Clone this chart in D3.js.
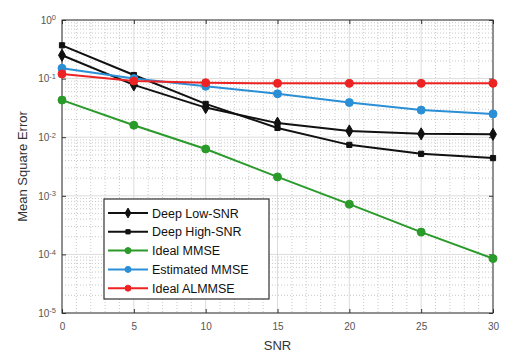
<!DOCTYPE html>
<html lang="en">
<head>
  <meta charset="UTF-8">
  <title>Mean Square Error vs SNR</title>
  <script src="https://d3js.org/d3.v7.min.js"></script>
  <style>
    body { margin: 0; background: #fff; }
    svg { font-family: "Liberation Sans", Arial, sans-serif; }
    .tick text { fill: #555; font-size: 10px; }
    .legend text { font-size: 12.5px; fill: #111; }
  </style>
</head>
<body>
  <div id="chart"></div>
  <script>
    // data
    var snr = [0, 5, 10, 15, 20, 25, 30];
    var deepLow = [0.25, 0.078, 0.032, 0.0174, 0.0128, 0.0114, 0.0112];
    var deepHigh = [0.37, 0.115, 0.037, 0.0144, 0.0074, 0.0052, 0.0044];
    var idealMmse = [0.043, 0.016, 0.0063, 0.0021, 0.00072, 0.00024, 0.000085];
    var estMmse = [0.15, 0.10, 0.074, 0.055, 0.039, 0.029, 0.025];
    var idealAlmmse = [0.12, 0.091, 0.085, 0.083, 0.083, 0.083, 0.083];
    var xTicks = [0, 5, 10, 15, 20, 25, 30];
    var yExps = [0, -1, -2, -3, -4, -5];

    var series = [
      { name: "Deep Low-SNR", values: deepLow, color: "#111", marker: "diamond" },
      { name: "Deep High-SNR", values: deepHigh, color: "#111", marker: "square" },
      { name: "Ideal MMSE", values: idealMmse, color: "#2a9a2a", marker: "circle" },
      { name: "Estimated MMSE", values: estMmse, color: "#2b8fd6", marker: "circle" },
      { name: "Ideal ALMMSE", values: idealAlmmse, color: "#ee2222", marker: "circle" }
    ];

    var margin = { top: 20, right: 19, bottom: 48, left: 62 },
      width = 512 - margin.left - margin.right,
      height = 361 - margin.top - margin.bottom;

    var svg = d3.select("#chart").append("svg")
      .attr("width", 512)
      .attr("height", 361)
      .append("g")
      .attr("transform", "translate(" + margin.left + "," + margin.top + ")");

    var x = d3.scaleLinear().domain([0, 30]).range([0, width]);
    var y = d3.scaleLog().domain([1e-5, 1]).range([height, 0]);

    // minor grid
    var minorX = d3.range(0, 31, 1).filter(function (d) { return d % 5 !== 0; });
    var minorY = [];
    yExps.slice(0, -1).forEach(function (e) {
      for (var k = 2; k < 10; k++) minorY.push(k * Math.pow(10, e - 1));
    });
    svg.append("g").selectAll("line").data(minorX).enter().append("line")
      .attr("x1", function (d) { return x(d); }).attr("x2", function (d) { return x(d); })
      .attr("y1", 0).attr("y2", height)
      .attr("stroke", "#c4c4c4").attr("stroke-width", 0.9).attr("stroke-dasharray", "1,2");
    svg.append("g").selectAll("line").data(minorY).enter().append("line")
      .attr("x1", 0).attr("x2", width)
      .attr("y1", function (d) { return y(d); }).attr("y2", function (d) { return y(d); })
      .attr("stroke", "#c4c4c4").attr("stroke-width", 0.9).attr("stroke-dasharray", "1,2");

    // major grid
    svg.append("g").selectAll("line").data(xTicks).enter().append("line")
      .attr("x1", function (d) { return x(d); }).attr("x2", function (d) { return x(d); })
      .attr("y1", 0).attr("y2", height)
      .attr("stroke", "#dcdcdc").attr("stroke-width", 1);
    svg.append("g").selectAll("line").data(yExps).enter().append("line")
      .attr("x1", 0).attr("x2", width)
      .attr("y1", function (d) { return y(Math.pow(10, d)); })
      .attr("y2", function (d) { return y(Math.pow(10, d)); })
      .attr("stroke", "#dcdcdc").attr("stroke-width", 1);

    // axes, ticks inside
    var xAxis = d3.axisBottom(x).tickValues(xTicks).tickSizeInner(-4).tickSizeOuter(0).tickPadding(10);
    var gx = svg.append("g").attr("transform", "translate(0," + height + ")").call(xAxis);
    gx.select(".domain").remove();
    gx.selectAll(".tick line").attr("stroke", "#333");

    var yAxis = d3.axisLeft(y).tickValues(yExps.map(function (e) { return Math.pow(10, e); }))
      .tickSizeInner(-4).tickSizeOuter(0).tickPadding(6).tickFormat("");
    var gy = svg.append("g").call(yAxis);
    gy.select(".domain").remove();
    gy.selectAll(".tick line").attr("stroke", "#333");
    gy.selectAll(".tick").each(function (d) {
      var t = d3.select(this).append("text")
        .attr("x", -6).attr("dy", "0.32em").attr("text-anchor", "end");
      t.append("tspan").text("10");
      t.append("tspan").attr("dy", "-0.45em").style("font-size", "7.5px")
        .text(Math.round(Math.log10(d)));
    });
    // right side ticks
    svg.append("g").attr("transform", "translate(" + width + ",0)")
      .call(d3.axisRight(y).tickValues(yExps.map(function (e) { return Math.pow(10, e); }))
        .tickSizeInner(-4).tickSizeOuter(0).tickFormat(""))
      .call(function (g) { g.select(".domain").remove(); g.selectAll("line").attr("stroke", "#333"); });
    svg.append("g")
      .call(d3.axisTop(x).tickValues(xTicks).tickSizeInner(-4).tickSizeOuter(0).tickFormat(""))
      .call(function (g) { g.select(".domain").remove(); g.selectAll("line").attr("stroke", "#333"); });

    svg.append("rect").attr("width", width).attr("height", height)
      .attr("fill", "none").attr("stroke", "#333").attr("stroke-width", 1);

    // axis labels
    svg.append("text").attr("x", width / 2).attr("y", height + 37)
      .attr("text-anchor", "middle").style("font-size", "13px").attr("fill", "#333").text("SNR");
    svg.append("text").attr("transform", "rotate(-90)")
      .attr("x", -height / 2).attr("y", -35)
      .attr("text-anchor", "middle").style("font-size", "13px").attr("fill", "#333")
      .text("Mean Square Error");

    function drawMarker(g, type, color, size) {
      if (type === "diamond") {
        g.append("path").attr("d", d3.symbol(d3.symbolDiamond, size * 7)())
          .attr("fill", color).attr("stroke", color);
      } else if (type === "square") {
        g.append("path").attr("d", d3.symbol(d3.symbolSquare, size * 4.5)())
          .attr("fill", color).attr("stroke", color);
      } else {
        g.append("circle").attr("r", size / 2 + 1).attr("fill", color).attr("stroke", color);
      }
    }

    var line = d3.line()
      .x(function (d, i) { return x(snr[i]); })
      .y(function (d) { return y(d); });

    series.forEach(function (s) {
      svg.append("path").datum(s.values)
        .attr("d", line)
        .attr("fill", "none").attr("stroke", s.color).attr("stroke-width", 2);
      s.values.forEach(function (v, i) {
        var g = svg.append("g").attr("transform", "translate(" + x(snr[i]) + "," + y(v) + ")");
        drawMarker(g, s.marker, s.color, 6);
      });
    });

    // legend
    var lg = svg.append("g").attr("class", "legend")
      .attr("transform", "translate(" + (104 - margin.left) + "," + (199 - margin.top) + ")");
    lg.append("rect").attr("width", 165).attr("height", 100)
      .attr("fill", "#fff").attr("stroke", "#333").attr("stroke-width", 1.2);
    series.forEach(function (s, i) {
      var yy = 14 + i * 18.8;
      lg.append("line").attr("x1", 4).attr("x2", 44).attr("y1", yy).attr("y2", yy)
        .attr("stroke", s.color).attr("stroke-width", 2);
      var g = lg.append("g").attr("transform", "translate(24," + yy + ")");
      drawMarker(g, s.marker, s.color, 4);
      lg.append("text").attr("x", 48).attr("y", yy).attr("dy", "0.36em").text(s.name);
    });
  </script>
</body>
</html>
